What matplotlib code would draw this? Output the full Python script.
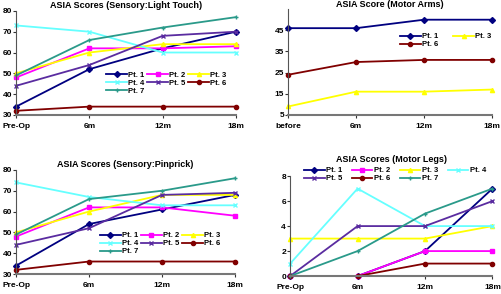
import matplotlib
matplotlib.use("Agg")
import matplotlib.pyplot as plt

plt.rcParams['font.family'] = ['Liberation Sans', 'DejaVu Sans']
plt.rcParams['font.weight'] = 'bold'

times = ['Pre-Op', '6m', '12m', '18m']
times_arms = ['before', '6m', '12m', '18m']

names = ['Pt. 1', 'Pt. 2', 'Pt. 3', 'Pt. 4', 'Pt. 5', 'Pt. 6', 'Pt. 7']
colors = ['#000080', '#ff00ff', '#ffff00', '#66ffff', '#5a2ca0', '#800000', '#2a9a8a']
markers = ['D', 's', '^', 'x', 'x', 'o', '+']

light_touch = [
    [34, 52, 62, 70],
    [48, 62, 62, 63],
    [50, 60, 64, 64],
    [73, 70, 60, 60],
    [44, 54, 68, 70],
    [32, 34, 34, 34],
    [49, 66, 72, 77],
]

pinprick = [
    [34, 54, 61, 68],
    [48, 62, 62, 58],
    [50, 60, 68, 68],
    [74, 67, 63, 63],
    [44, 52, 68, 69],
    [32, 36, 36, 36],
    [49, 66, 70, 76],
]

motor_legs = [
    [0, 0, 2, 7],
    [0, 0, 2, 2],
    [3, 3, 3, 4],
    [1, 7, 4, 4],
    [0, 4, 4, 6],
    [0, 0, 1, 1],
    [0, 2, 5, 7],
]

arms_idx = [0, 2, 5]
motor_arms = [
    [46, 46, 50, 50],
    [9, 16, 16, 17],
    [24, 30, 31, 31],
]

fig = plt.figure(figsize=(5.02, 2.94), dpi=100)
ax1 = fig.add_axes([0.032, 0.609, 0.438, 0.354])
ax2 = fig.add_axes([0.574, 0.609, 0.406, 0.360])
ax3 = fig.add_axes([0.032, 0.068, 0.436, 0.354])
ax4 = fig.add_axes([0.578, 0.061, 0.403, 0.340])


def style(ax, labels, ylim, yticks, title, tpad):
    ax.set_xlim(0, 3)
    ax.set_ylim(*ylim)
    ax.set_xticks(range(4))
    ax.set_xticklabels(labels, fontsize=6, fontweight='bold')
    ax.set_yticks(yticks)
    ax.set_yticklabels(yticks, fontsize=6, fontweight='bold')
    ax.spines['top'].set_visible(False)
    ax.spines['right'].set_visible(False)
    ax.spines['left'].set_color('#555555')
    ax.spines['bottom'].set_color('#777777')
    ax.spines['bottom'].set_linewidth(1.5)
    ax.tick_params(axis='y', length=2, width=0.8, pad=1, colors='#333333')
    ax.tick_params(axis='x', length=2, width=0.8, pad=4, colors='#333333')
    for t in ax.get_xticklabels() + ax.get_yticklabels():
        t.set_color('black')
    ax.set_title(title, fontsize=6.5, fontweight='bold', pad=tpad)


def draw(ax, data, idx):
    lines = []
    for k, i in enumerate(idx):
        ln, = ax.plot(range(4), data[k], color=colors[i], marker=markers[i],
                      markersize=3, linewidth=1.3, label=names[i], clip_on=False)
        lines.append(ln)
    return lines


def legend(ax, lines, order, ncol, anchor, spacing):
    ax.legend([lines[j] for j in order], [lines[j].get_label() for j in order],
              ncol=ncol, fontsize=5.5, frameon=False, loc='upper left',
              bbox_to_anchor=anchor, handlelength=2.7, handletextpad=0.15,
              columnspacing=spacing, labelspacing=0.08, borderpad=0,
              borderaxespad=0)


all_idx = list(range(7))
row_order3 = [0, 3, 6, 1, 4, 2, 5]
row_order4 = [0, 4, 1, 5, 2, 6, 3]

l1 = draw(ax1, light_touch, all_idx)
style(ax1, times, (30, 80), [30, 40, 50, 60, 70, 80], 'ASIA Scores (Sensory:Light Touch)', 2)
legend(ax1, l1, row_order3, 3, (0.41, 0.42), 0.4)

l2 = draw(ax2, motor_arms, arms_idx)
style(ax2, times_arms, (5, 55), [5, 15, 25, 35, 45], 'ASIA Score (Motor Arms)', 1)
legend(ax2, l2, [0, 2, 1], 2, (0.549, 0.774), 2.0)

l3 = draw(ax3, pinprick, all_idx)
style(ax3, times, (30, 80), [30, 40, 50, 60, 70, 80], 'ASIA Scores (Sensory:Pinprick)', 2)
legend(ax3, l3, row_order3, 3, (0.384, 0.404), 0.4)

l4 = draw(ax4, motor_legs, all_idx)
style(ax4, times, (0, 8), [0, 2, 4, 6, 8], 'ASIA Scores (Motor Legs)', 10)
legend(ax4, l4, row_order4, 4, (0.068, 1.09), 1.3)

fig.savefig('out.png', dpi=100)
